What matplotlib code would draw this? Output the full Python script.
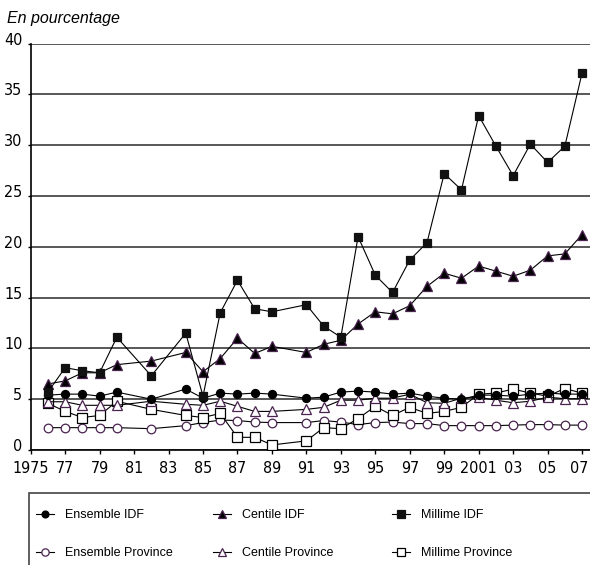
import os
import matplotlib
matplotlib.use('Agg')
import matplotlib.pyplot as plt
import matplotlib.transforms as mtransforms
from matplotlib.patches import Rectangle
from matplotlib import font_manager

# years of the survey (no 1981, 1983, 1990)
annees = [1976, 1977, 1978, 1979, 1980, 1982, 1984, 1985, 1986, 1987, 1988, 1989,
          1991, 1992, 1993, 1994, 1995, 1996, 1997, 1998, 1999, 2000,
          2001, 2002, 2003, 2004, 2005, 2006, 2007]

ensemble_idf = [5.4, 5.5, 5.5, 5.3, 5.7, 5.0, 6.0, 5.1, 5.6, 5.5, 5.6, 5.5,
                5.1, 5.2, 5.7, 5.8, 5.7, 5.5, 5.6, 5.3, 5.1, 5.0,
                5.4, 5.4, 5.3, 5.5, 5.6, 5.5, 5.5]
centile_idf = [6.5, 6.8, 7.6, 7.6, 8.4, 8.75, 9.6, 7.7, 9.0, 11.0, 9.5, 10.2,
               9.6, 10.4, 10.8, 12.4, 13.6, 13.4, 14.2, 16.1, 17.4, 16.9,
               18.1, 17.6, 17.1, 17.7, 19.1, 19.3, 21.2]
millime_idf = [5.7, 8.1, 7.8, 7.6, 11.1, 7.3, 11.5, 5.3, 13.5, 16.7, 13.9, 13.6,
               14.3, 12.2, 11.1, 21.0, 17.2, 15.5, 18.7, 20.4, 27.2, 25.6,
               32.9, 29.9, 27.0, 30.1, 28.3, 29.9, 37.1]

ensemble_prov = [2.2, 2.2, 2.2, 2.2, 2.2, 2.1, 2.4, 2.7, 2.95, 2.9, 2.75, 2.7,
                 2.7, 2.9, 2.75, 2.5, 2.7, 2.75, 2.6, 2.6, 2.4, 2.4,
                 2.4, 2.4, 2.45, 2.5, 2.5, 2.45, 2.45]
centile_prov = [4.75, 4.75, 4.4, 4.4, 4.4, 4.8, 4.5, 4.4, 4.8, 4.3, 3.8, 3.8,
                4.0, 4.2, 4.9, 4.9, 5.1, 5.1, 5.5, 4.65, 4.6, 5.1,
                5.2, 4.9, 4.65, 4.8, 5.2, 5.05, 5.05]
millime_prov = [4.6, 3.8, 3.2, 3.4, 4.8, 4.0, 3.4, 3.2, 3.6, 1.25, 1.25, 0.5,
                0.9, 2.2, 2.1, 3.1, 4.3, 3.4, 4.2, 3.6, 3.8, 4.2,
                5.5, 5.6, 6.0, 5.6, 5.3, 6.05, 5.6]

xticks = list(range(1975, 2008, 2))
xlabels = ['1975', '77', '79', '81', '83', '85', '87', '89', '91', '93', '95',
           '97', '99', '2001', '03', '05', '07']

# pick a condensed face for the axis numbers if one is there
files = {os.path.basename(f.fname).lower(): f.fname for f in font_manager.fontManager.ttflist}
if 'liberationsansnarrow-regular.ttf' in files:
    fp = font_manager.FontProperties(fname=files['liberationsansnarrow-regular.ttf'])
    tick_fs = 13
elif 'dejavusanscondensed.ttf' in files:
    fp = font_manager.FontProperties(fname=files['dejavusanscondensed.ttf'])
    tick_fs = 11.5
else:
    fp = font_manager.FontProperties(family='Liberation Sans')
    tick_fs = 10.5
fp_it = font_manager.FontProperties(family='Liberation Sans', style='italic', size=11.5)
leg_prop = font_manager.FontProperties(family='Liberation Sans', size=9)

violet = '#4a2350'

fig = plt.figure(figsize=(5.9, 5.65), dpi=100)
ax = fig.add_axes([0.052, 0.2035, 0.948, 0.7195])

styles = [
    (ensemble_prov, 'Ensemble Province', dict(marker='o', mfc='white', mec=violet, ms=6.2)),
    (millime_prov, 'Millime Province', dict(marker='s', mfc='white', mec='black', ms=6.6)),
    (centile_prov, 'Centile Province', dict(marker='^', mfc='white', mec=violet, ms=7.5)),
    (ensemble_idf, 'Ensemble IDF', dict(marker='o', mfc='black', mec='black', ms=5.8)),
    (centile_idf, 'Centile IDF', dict(marker='^', mfc='black', mec=violet, ms=7.5)),
    (millime_idf, 'Millime IDF', dict(marker='s', mfc='#111111', mec='#111111', ms=6.4)),
]
handles = {}
for vals, lab, st in styles:
    ln, = ax.plot(annees, vals, color='black', lw=0.8, mew=0.9, label=lab, zorder=3, **st)
    handles[lab] = ln

ax.set_xlim(1975, 2007.46)
ax.set_ylim(0, 40)
ax.set_yticks(range(0, 41, 5))
ax.set_xticks(xticks)
ax.set_xticklabels(xlabels)
ax.yaxis.grid(True, color='#2a2a2a', lw=1.1)
ax.set_axisbelow(True)
for s in ['top', 'right']:
    ax.spines[s].set_visible(False)
ax.spines['left'].set_linewidth(1.2)
ax.spines['bottom'].set_linewidth(1.2)
ax.tick_params(axis='y', length=2, width=1, pad=4)
ax.tick_params(axis='x', length=3, width=1, pad=5)

# y labels sit a little above their gridline
offset = mtransforms.ScaledTranslation(0, 5 / 100, fig.dpi_scale_trans)
for lbl in ax.get_yticklabels():
    lbl.set_fontproperties(fp)
    lbl.set_fontsize(tick_fs)
    lbl.set_transform(lbl.get_transform() + offset)
for lbl in ax.get_xticklabels():
    lbl.set_fontproperties(fp)
    lbl.set_fontsize(tick_fs)
# last label hugs the right edge
nudge = mtransforms.ScaledTranslation(-3 / 100, 0, fig.dpi_scale_trans)
last = ax.get_xticklabels()[-1]
last.set_transform(last.get_transform() + nudge)

fig.text(7 / 590, 1 - 18 / 565, 'En pourcentage', fontproperties=fp_it,
         ha='left', va='center')

# legend box
fig.patches.append(Rectangle((28.7 / 590, -0.05), 0.99, 1 - 492.7 / 565 + 0.05,
                             transform=fig.transFigure, fill=False,
                             edgecolor='#444444', lw=1.2, clip_on=False))
cols = [(['Ensemble IDF', 'Ensemble Province'], 36),
        (['Centile IDF', 'Centile Province'], 213),
        (['Millime IDF', 'Millime Province'], 392)]
for labs, xpix in cols:
    leg = fig.legend([handles[l] for l in labs], labs, loc='upper left',
                     bbox_to_anchor=(xpix / 590, 1 - 509 / 565), frameon=False,
                     prop=leg_prop, handlelength=1.4, handletextpad=0.9,
                     labelspacing=2.1, borderpad=0, borderaxespad=0,
                     markerscale=0.85)

fig.savefig('out.png', dpi=100)
